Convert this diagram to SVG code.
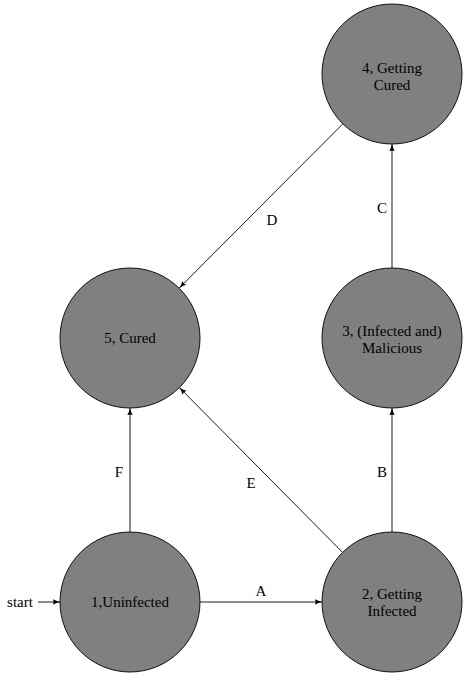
<svg xmlns="http://www.w3.org/2000/svg" width="463" height="679" viewBox="0 0 463 679">
<defs>
<style>
.state{fill:#808080;stroke:#000;stroke-width:0.9}
.e{stroke:#000;stroke-width:0.9;fill:none;marker-end:url(#arr)}
</style>
<marker id="arr" viewBox="0 0 10 10" refX="9" refY="5" markerWidth="8" markerHeight="8" markerUnits="userSpaceOnUse" orient="auto">
<path d="M0,1.5 Q4,4 9,5 Q4,6 0,8.5 Q2,5 0,1.5 Z" fill="#000"/>
</marker>
</defs>
<rect width="463" height="679" fill="#fff"/>
<g font-family="'Liberation Serif', 'Times New Roman', Times, serif" font-size="15" text-anchor="middle" fill="#000">
<g id="connectors">
<line class="e" x1="38" y1="602" x2="60" y2="602"/>
<line class="e" x1="200" y1="602" x2="322" y2="602"/>
<line class="e" x1="392" y1="532" x2="392" y2="408"/>
<line class="e" x1="392" y1="268" x2="392" y2="144"/>
<line class="e" x1="342.8" y1="123.8" x2="179.3" y2="288"/>
<line class="e" x1="342.6" y1="552.4" x2="179.4" y2="387.6"/>
<line class="e" x1="130" y1="532" x2="130" y2="408"/>
<text x="20" y="607">start</text>
<text x="261" y="596">A</text>
<text x="382" y="477">B</text>
<text x="382" y="213">C</text>
<text x="272" y="225">D</text>
<text x="251" y="488">E</text>
<text x="119" y="477">F</text>
</g>
<g id="node1">
<circle class="state" cx="130" cy="602" r="70"/>
<text x="130" y="607">1,Uninfected</text>
</g>
<g id="node2">
<circle class="state" cx="392" cy="602" r="70"/>
<text x="392" y="599">2, Getting</text>
<text x="392" y="616">Infected</text>
</g>
<g id="node3">
<circle class="state" cx="392" cy="338" r="70"/>
<text x="392" y="336">3, (Infected and)</text>
<text x="392" y="353">Malicious</text>
</g>
<g id="node4">
<circle class="state" cx="392" cy="74" r="70"/>
<text x="392" y="73">4, Getting</text>
<text x="392" y="90">Cured</text>
</g>
<g id="node5">
<circle class="state" cx="130" cy="338" r="70"/>
<text x="130" y="343">5, Cured</text>
</g>
</g>
</svg>
